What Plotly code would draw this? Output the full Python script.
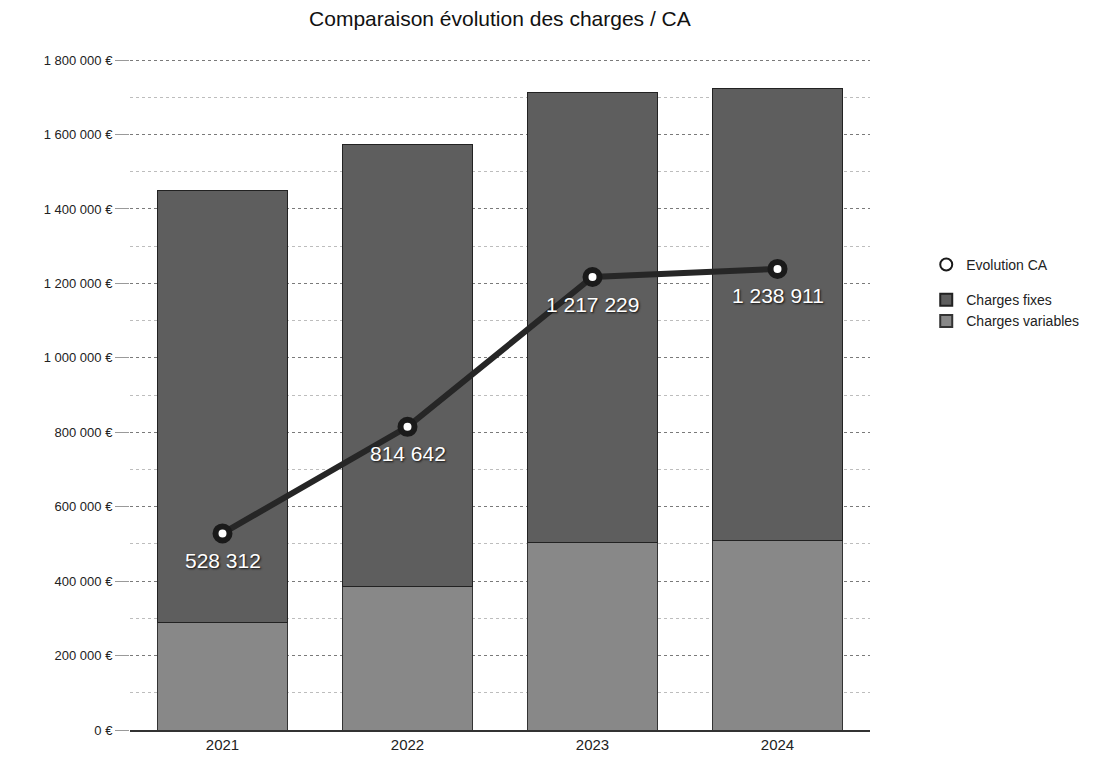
import plotly.graph_objects as go

# Data
years = ["2021", "2022", "2023", "2024"]
charges_variables = [288000, 385000, 505000, 510000]
charges_fixes = [1162000, 1188000, 1207000, 1214000]
ca = [528312, 814642, 1217229, 1238911]
ca_labels = ["528 312", "814 642", "1 217 229", "1 238 911"]

tick_vals = [0, 200000, 400000, 600000, 800000, 1000000, 1200000, 1400000, 1600000, 1800000]
tick_text = ["0 €", "200 000 €", "400 000 €", "600 000 €", "800 000 €", "1 000 000 €",
             "1 200 000 €", "1 400 000 €", "1 600 000 €", "1 800 000 €"]

FONT = "Liberation Sans, Arial, Helvetica, sans-serif"

fig = go.Figure()

fig.add_trace(go.Bar(
    x=years, y=charges_variables,
    name="Charges variables",
    marker=dict(color="#888888", line=dict(color="#333333", width=1)),
    legendgroup="charges", legendrank=3,
))

fig.add_trace(go.Bar(
    x=years, y=charges_fixes,
    name="Charges fixes",
    marker=dict(color="#5e5e5e", line=dict(color="#222222", width=1)),
    legendgroup="charges", legendrank=2,
))

# CA line (no legend entry) and its markers
fig.add_trace(go.Scatter(
    x=years, y=ca,
    mode="lines",
    line=dict(color="#262626", width=6),
    showlegend=False, hoverinfo="skip",
))

fig.add_trace(go.Scatter(
    x=years, y=ca,
    name="Evolution CA",
    mode="markers",
    marker=dict(size=14, color="white", line=dict(color="#1a1a1a", width=6)),
    legendgroup="ca", legendrank=1,
))

# value labels under the points (category axis -> serial index)
for i, (val, lab) in enumerate(zip(ca, ca_labels)):
    fig.add_annotation(
        x=i, y=val, text=lab, showarrow=False, yshift=-27,
        font=dict(color="white", size=21, family=FONT, shadow="1px 1px 2px #111"),
    )

fig.update_layout(
    width=1113, height=757,
    barmode="stack",
    bargap=0.3,
    plot_bgcolor="white",
    paper_bgcolor="white",
    font=dict(family=FONT, size=13, color="#222222"),
    title=dict(text="Comparaison évolution des charges / CA",
               x=0.442, xanchor="center", y=0.986, yanchor="middle",
               font=dict(size=21, color="#111111")),
    margin=dict(l=122, r=251, t=51, b=35),
    legend=dict(x=1.076, y=0.717, xanchor="left", yanchor="top",
                traceorder="grouped", tracegroupgap=14,
                font=dict(size=14, color="#222222"),
                itemsizing="constant"),
    xaxis=dict(type="category", showline=True, linecolor="#333333", linewidth=2,
               ticks="", tickfont=dict(size=15)),
    yaxis=dict(range=[0, 1803000], tickvals=tick_vals, ticktext=tick_text,
               showgrid=True, gridcolor="#7a7a7a", griddash="dot", gridwidth=1,
               ticks="outside", ticklen=14, tickcolor="#9a9a9a",
               zeroline=False,
               minor=dict(dtick=100000, showgrid=True, gridcolor="#bdbdbd",
                          griddash="dot", gridwidth=1)),
)

fig.write_html("out.html")
